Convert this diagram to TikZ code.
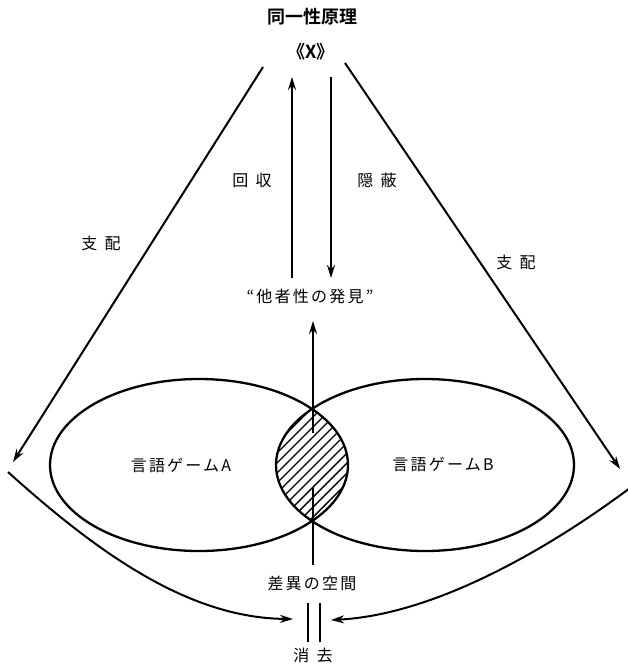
\documentclass[tikz,border=0pt]{standalone}
\usepackage{fontspec}
\newfontfamily\jp[LetterSpace=14]{Noto Sans CJK JP}
\newfontfamily\jpbold{Noto Sans CJK JP Bold}
\usetikzlibrary{arrows.meta}
\begin{document}
\begin{tikzpicture}[x=1pt,y=-1pt,
  ln/.style={line width=2pt},
  arr/.style={line width=2pt,-{Stealth[length=13pt,width=8pt]}},
  lbl/.style={font=\jp\fontsize{16}{16}\selectfont,inner sep=0pt},
  ttl/.style={font=\jpbold\fontsize{18}{18}\selectfont,inner sep=0pt}]
\useasboundingbox (0,0) rectangle (627,669);
% texts
\node[ttl] (title) at (312,17) {同一性原理};
\node[ttl] (X) at (311,52) {《X》};
\node[lbl] (kaishu) at (252,180) {回\hspace{0.45em}収};
\node[lbl] (inpei) at (377,180) {隠\hspace{0.45em}蔽};
\node[lbl] (shihaiL) at (101,243) {支\hspace{0.45em}配};
\node[lbl] (shihaiR) at (516,262) {支\hspace{0.45em}配};
\node[lbl] (tasha) at (310,296) {“他者性の発見”};
\node[lbl] (gameA) at (181,465) {言語ゲームA};
\node[lbl] (gameB) at (443,464) {言語ゲームB};
\node[lbl] (sai) at (312,583) {差異の空間};
\node[lbl] (shokyo) at (313,655) {消\hspace{0.45em}去};
% coordinates
\coordinate (kb) at (292,278); \coordinate (kt) at (292,77);
\coordinate (it) at (331,77); \coordinate (ib) at (331,278);
\coordinate (Ls) at (263,67); \coordinate (Le) at (13,462);
\coordinate (Rs) at (345,63); \coordinate (Re) at (620,469);
\coordinate (cA) at (199,465); \coordinate (cB) at (425,465);
\coordinate (vb) at (313,565); \coordinate (vg1) at (313,487);
\coordinate (vg2) at (313,433); \coordinate (vt) at (313,321);
\coordinate (bl) at (8,472); \coordinate (blt) at (293,619);
\coordinate (br) at (630,488); \coordinate (brt) at (331,620);
\coordinate (p1t) at (308,603); \coordinate (p1b) at (308,642);
\coordinate (p2t) at (320,603); \coordinate (p2b) at (320,642);
% hatching in lens
\begin{scope}
\clip (cA) ellipse [x radius=149pt, y radius=86pt];
\clip (cB) ellipse [x radius=149pt, y radius=86pt];
\foreach \i in {130,140,...,320} \draw[line width=1.4pt] (\i,560) -- (\i+160,400);
\end{scope}
% ellipses
\draw[line width=2.3pt] (cA) ellipse [x radius=149pt, y radius=86pt];
\draw[line width=2.3pt] (cB) ellipse [x radius=149pt, y radius=86pt];
% arrows
\draw[arr] (kb) -- (kt);
\draw[arr] (it) -- (ib);
\draw[arr] (Ls) -- (Le);
\draw[arr] (Rs) -- (Re);
\draw[ln] (vb) -- (vg1);
\draw[arr] (vg2) -- (vt);
\draw[arr] (bl) .. controls (100,555) and (190,618) .. (blt);
\draw[arr] (br) .. controls (540,555) and (430,615) .. (brt);
\draw[ln] (p1t) -- (p1b);
\draw[ln] (p2t) -- (p2b);
\end{tikzpicture}
\end{document}
